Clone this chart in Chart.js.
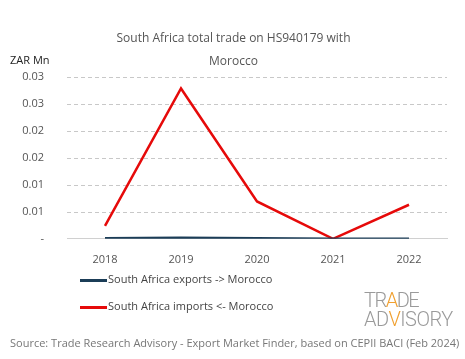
<!DOCTYPE html>
<html>
<head>
<meta charset="utf-8">
<script src="https://cdn.jsdelivr.net/npm/chart.js@4"></script>
<style>
  body { margin: 0; background: #fff; font-family: "Open Sans", sans-serif; }
  #wrap { position: relative; width: 465px; height: 359px; }
  #chartBox { position: absolute; left: 0; top: 0; width: 465px; height: 272px; }
  .unit { position: absolute; left: 10px; top: 52px; font-size: 11px; color: #222; }
  .legend { position: absolute; left: 80px; font-size: 11px; color: #444; }
  .legend span.swatch { display: inline-block; width: 27px; height: 3px; vertical-align: middle; margin-right: 1px; }
  .logo { position: absolute; left: 364px; top: 291px; color: #9a9a9a; font-family: Roboto, sans-serif; font-weight: 300; line-height: 19px; font-size: 20px; }
  .logo .l1 { letter-spacing: -1.5px; }
  .logo .l2 { letter-spacing: -0.5px; }
  .logo b { font-weight: 300; color: #f0a030; }
  .source { position: absolute; left: 10px; top: 335px; font-size: 11px; color: #777; white-space: nowrap; }
</style>
</head>
<body>
<div id="wrap">
  <div id="chartBox"><canvas id="chart"></canvas></div>
  <div class="unit">ZAR Mn</div>
  <div id="legend"></div>
  <div class="logo"><div class="l1">TR<b>A</b>DE</div><div class="l2">AD<b>V</b>ISORY</div></div>
  <div class="source">Source: Trade Research Advisory - Export Market Finder, based on CEPII BACI (Feb 2024)</div>
</div>
<script>
const years = ["2018", "2019", "2020", "2021", "2022"];
const exportsToMorocco = [0.0001, 0.0002, 0.0001, 0, 0];
const importsFromMorocco = [0.0024, 0.0278, 0.0069, 0, 0.0063];
const seriesNames = ["South Africa exports -> Morocco", "South Africa imports <- Morocco"];
const seriesColors = ["#1b3d57", "#e60a0a"];
const titleLines = ["South Africa total trade on HS940179 with", "Morocco"];

const legendEl = document.getElementById("legend");
seriesNames.forEach((name, i) => {
  const item = document.createElement("div");
  item.className = "legend";
  item.style.top = (271 + i * 27) + "px";
  item.innerHTML = '<span class="swatch" style="background:' + seriesColors[i] + '"></span>' + name;
  legendEl.appendChild(item);
});

function fmt(v) {
  if (Math.abs(v) < 1e-9) return "-";
  return (Math.round(v * 100 + 1e-9) / 100).toFixed(2);
}

// dashed horizontal grid lines, drawn from the y scale ticks
const dashedGrid = {
  id: "dashedGrid",
  beforeDatasetsDraw(chart) {
    const { ctx, chartArea, scales } = chart;
    ctx.save();
    ctx.strokeStyle = "#c8c8c8";
    ctx.lineWidth = 1;
    ctx.setLineDash([4, 3]);
    scales.y.ticks.forEach((t) => {
      if (Math.abs(t.value) < 1e-9) return;
      const y = Math.round(scales.y.getPixelForValue(t.value)) + 0.5;
      ctx.beginPath();
      ctx.moveTo(chartArea.left, y);
      ctx.lineTo(chartArea.right, y);
      ctx.stroke();
    });
    ctx.restore();
  }
};

new Chart(document.getElementById("chart"), {
  type: "line",
  data: {
    labels: years,
    datasets: [
      { label: seriesNames[0], data: exportsToMorocco, borderColor: seriesColors[0], borderWidth: 2.5, pointRadius: 0, tension: 0 },
      { label: seriesNames[1], data: importsFromMorocco, borderColor: seriesColors[1], borderWidth: 2.5, pointRadius: 0, tension: 0 }
    ]
  },
  plugins: [dashedGrid],
  options: {
    responsive: true,
    maintainAspectRatio: false,
    animation: false,
    layout: { padding: { left: 20, right: 18, top: 0, bottom: 0 } },
    plugins: {
      legend: { display: false },
      tooltip: { enabled: false },
      title: {
        display: true,
        text: titleLines,
        color: "#555",
        font: { family: "Open Sans", size: 12, weight: "normal", lineHeight: 1.9 },
        padding: { top: 27, bottom: 4 }
      }
    },
    scales: {
      x: {
        offset: true,
        grid: { display: false },
        border: { display: true, color: "#d0d0d0", width: 1 },
        ticks: { color: "#555", font: { family: "Open Sans", size: 11 }, padding: 6 }
      },
      y: {
        min: 0,
        max: 0.03,
        afterFit: (axis) => { axis.width = 47; },
        ticks: { stepSize: 0.005, color: "#555", font: { family: "Open Sans", size: 11 }, padding: 15, callback: (v) => fmt(v) },
        grid: { display: false },
        border: { display: false }
      }
    }
  }
});
</script>
</body>
</html>
